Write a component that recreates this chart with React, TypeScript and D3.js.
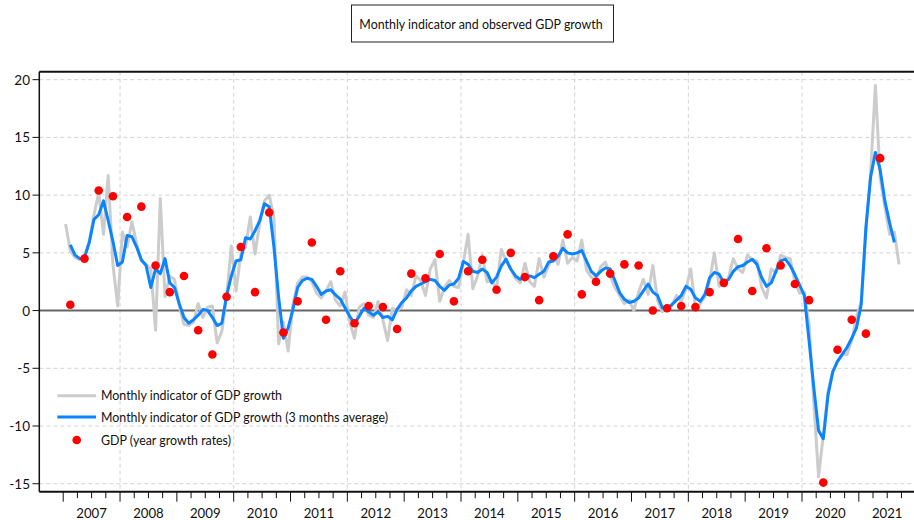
import React from 'react';
import * as d3 from 'd3';

const yearLabels = [2007, 2008, 2009, 2010, 2011, 2012, 2013, 2014, 2015, 2016, 2017, 2018, 2019, 2020, 2021];
const yTicks = [20, 15, 10, 5, 0, -5, -10, -15];
const gridYears = [2008, 2010, 2012, 2014, 2016, 2018, 2020];

// GDP year growth rates, quarterly 2007Q1 .. 2021Q2
const gdpQuarterly = [
  0.5, 4.5, 10.4, 9.9,
  8.1, 9.0, 3.9, 1.6,
  3.0, -1.7, -3.8, 1.2,
  5.5, 1.6, 8.5, -1.9,
  0.8, 5.9, -0.8, 3.4,
  -1.1, 0.4, 0.3, -1.6,
  3.2, 2.8, 4.9, 0.8,
  3.4, 4.4, 1.8, 5.0,
  2.9, 0.9, 4.7, 6.6,
  1.4, 2.5, 3.2, 4.0,
  3.9, 0.0, 0.2, 0.4,
  0.3, 1.6, 2.4, 6.2,
  1.7, 5.4, 3.9, 2.3,
  0.9, -14.9, -3.4, -0.8,
  -2.0, 13.2,
];

// Monthly indicator of GDP growth, Jan 2007 .. Sep 2021
const indicatorMonthly = [
  7.5, 5.2, 4.6, 4.4, 4.7, 6.0, 8.3, 10.2, 6.6, 11.7, 4.0, 0.4,
  6.8, 5.5, 7.7, 5.8, 4.3, 4.0, 3.6, -1.7, 9.7, 1.2, 3.0, 2.7,
  0.4, -1.2, -1.3, -1.0, 0.6, -0.6, 0.3, 0.4, -2.8, -1.8, 1.2, 5.6,
  1.7, 4.9, 5.5, 8.1, 4.9, 7.6, 9.5, 10.0, 8.0, -2.9, -1.0, -3.5,
  0.5, 2.4, 2.9, 2.9, 2.5, 1.5, 1.1, 1.7, 2.5, 0.9, 0.4, 1.6,
  -1.0, -2.4, 0.3, 0.6, -0.4, -0.6, 0.8, -0.8, -2.6, 0.2, 0.0, 0.3,
  1.8, 1.3, 3.0, 2.6, 1.3, 3.6, 4.4, 0.8, 2.0, 2.6, 2.1, 2.0,
  4.2, 6.6, 1.9, 3.0, 4.8, 2.5, 2.6, 1.9, 5.3, 4.3, 3.6, 2.8,
  2.4, 4.1, 2.5, 2.1, 4.5, 2.9, 3.9, 5.0, 4.0, 6.1, 4.1, 4.6,
  4.3, 6.1, 3.5, 2.9, 2.6, 3.8, 4.2, 3.0, 2.0, 1.3, 0.6, 0.9,
  0.0, 1.6, 2.7, 1.4, 3.9, 0.9, -0.1, 0.4, 0.4, 1.3, 0.8, 1.9,
  3.6, 0.3, 0.6, 1.2, 2.6, 5.0, 2.1, 2.2, 2.9, 4.5, 3.6, 3.3,
  4.8, 4.4, 4.3, 2.0, 1.1, 3.6, 3.3, 4.8, 4.6, 4.5, 2.5, 1.5,
  1.6, -1.2, -8.0, -14.4, -10.8, -7.0, -5.3, -4.4, -3.8, -3.8, -2.6, -0.6,
  0.8, 7.0, 12.0, 19.5, 11.5, 9.0, 6.6, 6.8, 4.0,
];

// Monthly indicator, 3 months average, Feb 2007 .. Aug 2021
const indicator3m = [
  5.7, 4.8, 4.5, 4.6, 5.9, 7.9, 8.3, 9.5, 7.8, 6.0, 3.9,
  4.2, 6.5, 6.4, 5.5, 4.4, 3.9, 2.0, 3.6, 3.2, 4.5, 2.4, 2.0,
  0.6, -0.6, -1.1, -0.8, -0.4, 0.1, 0.0, -0.6, -1.3, -1.1, 1.3, 3.0,
  4.3, 4.4, 6.3, 6.2, 6.9, 7.8, 9.25, 9.0, 5.5, 1.1, -2.4, -1.5,
  0.1, 2.0, 2.6, 2.8, 2.7, 2.1, 1.4, 1.7, 1.8, 1.35, 1.0, 0.25,
  -0.5, -1.1, -0.5, 0.2, -0.1, -0.4, -0.1, -0.6, -0.5, -0.8, 0.1, 0.7,
  1.1, 1.7, 2.1, 2.3, 2.5, 2.7, 2.6, 2.1, 1.75, 2.2, 2.3, 2.8,
  4.25, 4.0, 3.4, 3.3, 3.6, 3.3, 2.4, 2.9, 3.85, 4.45, 3.6, 3.0,
  2.7, 3.0, 3.0, 2.85, 3.15, 3.4, 4.2, 4.3, 4.7, 5.4, 5.0, 4.9,
  5.0, 5.2, 4.3, 3.4, 3.0, 3.4, 3.7, 3.6, 2.6, 1.55, 0.97, 0.7,
  0.8, 1.1, 1.7, 2.3, 1.6, 1.3, 0.25, 0.2, 0.5, 0.9, 1.3, 2.1,
  1.85, 1.1, 0.8, 1.4, 2.85, 3.3, 3.15, 2.4, 2.7, 3.4, 3.8, 3.9,
  4.2, 4.45, 4.0, 2.85, 2.1, 2.4, 3.4, 4.3, 4.45, 3.9, 3.1, 2.2,
  1.3, -2.65, -6.7, -10.4, -11.1, -7.3, -5.3, -4.4, -3.8, -3.2, -2.4, -1.5,
  0.5, 7.2, 11.6, 13.7, 12.2, 9.5, 7.6, 5.9,
];

const legendLabels = [
  'Monthly indicator of GDP growth',
  'Monthly indicator of GDP growth (3 months average)',
  'GDP (year growth rates)',
];
const title = 'Monthly indicator and observed GDP growth';

const FONT = 'Lato, "Open Sans", sans-serif';

export default function App() {
  const W = 914;
  const H = 520;
  const left = 39.3;
  const right = 914;
  const top = 71.7;
  const bottom = 491.7;

  const x = d3.scaleLinear().domain([2006.5794, 2021.971]).range([left, right]);
  const y = d3.scaleLinear().domain([-15.69, 20.69]).range([bottom, top]);

  const monthT = (i: number) => 2007 + (i + 0.5) / 12;

  const grayLine = d3
    .line<number>()
    .x((_, i) => x(monthT(i)))
    .y((d) => y(d))(indicatorMonthly) as string;

  const blueLine = d3
    .line<number>()
    .x((_, i) => x(monthT(i + 1)))
    .y((d) => y(d))(indicator3m) as string;

  const quarterTicks = d3.range(0, 15 * 4).map((k) => 2007 + k / 4);

  const grid = '#d3d3d3';

  return (
    <svg
      width={W}
      height={H}
      style={{ position: 'absolute', left: 0, top: 0, background: '#fff' }}
      fontFamily={FONT}
    >
      <rect x={0} y={0} width={W} height={H} fill="#fff" />
      {/* title box */}
      <rect x={351.5} y={5} width={262} height={37} fill="#fff" stroke="#222" strokeWidth={1} />
      <text x={481} y={24} textAnchor="middle" dominantBaseline="central" fontSize={12.4} fill="#111">
        {title}
      </text>

      {/* horizontal grid */}
      {yTicks.filter((v) => v !== 0).map((v) => (
        <line key={'hg' + v} x1={left} x2={right} y1={y(v)} y2={y(v)} stroke={grid} strokeWidth={1} strokeDasharray="4,3" />
      ))}
      {/* vertical grid */}
      {gridYears.map((yr) => (
        <line key={'vg' + yr} x1={x(yr)} x2={x(yr)} y1={top} y2={bottom} stroke={grid} strokeWidth={1} strokeDasharray="4,3" />
      ))}
      {/* zero line */}
      <line x1={left} x2={right} y1={y(0)} y2={y(0)} stroke="#666" strokeWidth={2} />

      {/* series */}
      <path d={grayLine} fill="none" stroke="#cccccc" strokeWidth={3} strokeLinejoin="round" />
      <path d={blueLine} fill="none" stroke="#0a84ff" strokeWidth={3} strokeLinejoin="round" />
      {gdpQuarterly.map((v, q) => (
        <circle key={'d' + q} cx={x(2007 + (3 * q + 1.5) / 12)} cy={y(v)} r={4.3} fill="#ff0000" />
      ))}

      {/* frame */}
      <line x1={left} x2={right} y1={top} y2={top} stroke="#111" strokeWidth={2} />
      <line x1={left} x2={left} y1={top} y2={bottom} stroke="#111" strokeWidth={1.5} />
      <line x1={left} x2={right} y1={bottom} y2={bottom} stroke="#111" strokeWidth={2} />

      {/* y axis ticks */}
      {yTicks.map((v) => (
        <g key={'yt' + v}>
          <line x1={32.5} x2={left} y1={y(v)} y2={y(v)} stroke="#111" strokeWidth={1} />
          <text x={30} y={y(v)} textAnchor="end" dominantBaseline="central" fontSize={13.5} fill="#111">
            {v}
          </text>
        </g>
      ))}

      {/* x axis ticks */}
      {quarterTicks.map((t, k) => (
        <line
          key={'xt' + k}
          x1={x(t)}
          x2={x(t)}
          y1={bottom}
          y2={bottom + (k % 4 === 0 ? 10 : 6.5)}
          stroke="#111"
          strokeWidth={1}
        />
      ))}
      {yearLabels.map((yr) => (
        <text key={'yl' + yr} x={x(yr + 0.5)} y={518} textAnchor="middle" fontSize={13.2} fill="#111">
          {yr}
        </text>
      ))}

      {/* legend */}
      <line x1={57.3} x2={96} y1={395.7} y2={395.7} stroke="#cccccc" strokeWidth={3} />
      <text x={101} y={395.7} dominantBaseline="central" fontSize={12.4} fill="#111">
        {legendLabels[0]}
      </text>
      <line x1={57.3} x2={96} y1={417} y2={417} stroke="#0a84ff" strokeWidth={3} />
      <text x={101} y={417} dominantBaseline="central" fontSize={12.4} fill="#111">
        {legendLabels[1]}
      </text>
      <circle cx={76.7} cy={440} r={4.3} fill="#ff0000" />
      <text x={101} y={440} dominantBaseline="central" fontSize={12.4} fill="#111">
        {legendLabels[2]}
      </text>
    </svg>
  );
}
